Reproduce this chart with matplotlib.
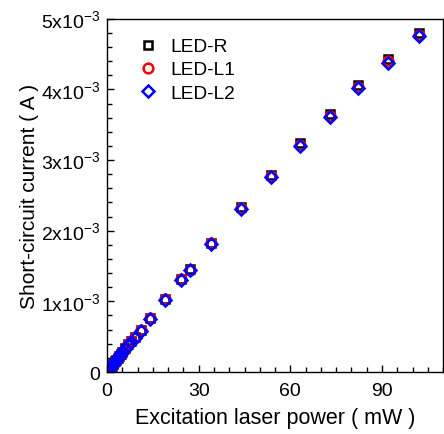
import numpy as np
import matplotlib.pyplot as plt
from matplotlib.ticker import MultipleLocator, FixedLocator

plt.rcParams['font.family'] = ['Liberation Sans', 'DejaVu Sans']
plt.rcParams['mathtext.fontset'] = 'custom'
plt.rcParams['mathtext.rm'] = 'Liberation Sans'

# laser power (mW) and short-circuit current (A) for each LED
power = [0.5, 1.0, 1.5, 2.0, 2.5, 3.0, 3.5, 4.0, 4.5, 5.0, 6.0, 7.0, 8.0, 9.2,
         11.1, 14.1, 19.0, 24.3, 27.2, 34.1, 43.9, 53.8, 63.3, 73.1, 82.3, 92.1, 102.0]
led_r = [0.03, 0.06, 0.09, 0.12, 0.15, 0.17, 0.20, 0.23, 0.26, 0.29, 0.34, 0.39, 0.44, 0.50,
         0.60, 0.77, 1.04, 1.32, 1.46, 1.83, 2.33, 2.79, 3.24, 3.65, 4.06, 4.43, 4.80]
led_l1 = [0.03, 0.06, 0.09, 0.12, 0.14, 0.17, 0.20, 0.23, 0.26, 0.28, 0.33, 0.39, 0.44, 0.49,
          0.59, 0.76, 1.03, 1.31, 1.45, 1.82, 2.32, 2.77, 3.21, 3.62, 4.03, 4.40, 4.77]
led_l2 = [0.03, 0.06, 0.09, 0.11, 0.14, 0.17, 0.20, 0.22, 0.25, 0.28, 0.33, 0.38, 0.43, 0.48,
          0.58, 0.75, 1.02, 1.30, 1.44, 1.81, 2.31, 2.76, 3.20, 3.61, 4.02, 4.38, 4.75]

power = np.array(power)
led_r = np.array(led_r) * 1e-3
led_l1 = np.array(led_l1) * 1e-3
led_l2 = np.array(led_l2) * 1e-3

fig = plt.figure(figsize=(4.44, 4.35), dpi=100)
ax = fig.add_axes([0.241, 0.1425, 0.757, 0.812])

ax.plot(power, led_r, 's', ms=6, mfc='none', mec='black', mew=1.8, label='LED-R')
ax.plot(power, led_l1, 'o', ms=7, mfc='none', mec='red', mew=1.8, label='LED-L1')
ax.plot(power, led_l2, 'D', ms=6.5, mfc='none', mec='blue', mew=1.8, label='LED-L2')

ax.set_xlim(0, 110)
ax.set_ylim(0, 5e-3)
ax.xaxis.set_major_locator(FixedLocator([0, 30, 60, 90]))
ax.xaxis.set_minor_locator(MultipleLocator(5))
ax.yaxis.set_major_locator(MultipleLocator(1e-3))
ax.yaxis.set_minor_locator(MultipleLocator(0.2e-3))

yticks = [0, 1e-3, 2e-3, 3e-3, 4e-3, 5e-3]
ylabels = ['0'] + ['%dx10$^{\\mathregular{-3}}$' % i for i in range(1, 6)]
ax.set_yticks(yticks)
ax.set_yticklabels(ylabels)

ax.tick_params(which='both', direction='in', top=False, right=False, labelsize=14)
ax.tick_params(which='major', length=5, width=1)
ax.tick_params(which='minor', length=3.5, width=1)
ax.tick_params(axis='x', pad=7)
ax.tick_params(axis='y', pad=5)
for s in ax.spines.values():
    s.set_linewidth(1)

ax.set_xlabel('Excitation laser power ( mW )', fontsize=15.5, labelpad=6)
ax.set_ylabel('Short-circuit current ( A )', fontsize=15, labelpad=1)

ax.legend(loc='upper left', bbox_to_anchor=(0.035, 0.995), frameon=False, fontsize=13.8,
          handletextpad=0.6, labelspacing=0.3, handlelength=1.2)

plt.savefig('out.png', dpi=100)
